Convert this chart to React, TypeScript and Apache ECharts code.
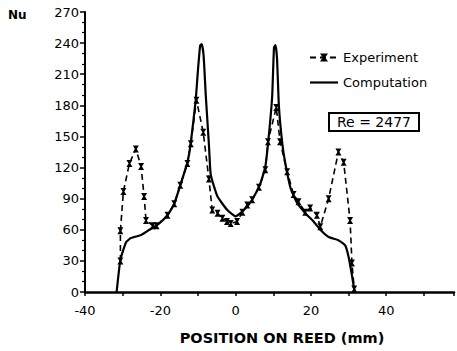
import React, { useEffect, useRef } from "react";
import * as echarts from "echarts";

const experiment: [number, number][] = [
  [-30.6, 30], [-30.6, 59], [-29.8, 97], [-28.2, 124], [-26.5, 138], [-25.1, 121],
  [-24.3, 92], [-23.8, 69], [-22.0, 64], [-21.0, 64], [-18.1, 74], [-16.3, 85],
  [-14.7, 103], [-12.8, 124], [-11.9, 143], [-10.4, 185], [-8.6, 154], [-7.1, 109],
  [-6.2, 79], [-4.8, 76], [-3.5, 71], [-2.3, 68], [-1.3, 66], [0.4, 68], [1.8, 77],
  [3.1, 84], [4.4, 89], [6.2, 101], [7.9, 118], [8.6, 145], [10.8, 178], [11.8, 145],
  [13.7, 116], [15.4, 94], [16.7, 87], [18.5, 77], [19.8, 81], [21.6, 74], [22.5, 63],
  [24.7, 90], [27.3, 135], [28.7, 125], [30.4, 69], [30.9, 28], [31.5, 3],
];

const computation: [number, number][] = [
  [-31.6, 0], [-30.6, 31], [-29.1, 48], [-27.8, 52], [-25.1, 55], [-22.9, 60],
  [-20.7, 65], [-18.1, 74], [-16.3, 85], [-14.6, 104], [-12.8, 125], [-11.9, 144],
  [-10.6, 185], [-10.0, 214], [-9.4, 238], [-9.0, 239], [-8.5, 228], [-7.9, 188], [-7.1, 143],
  [-6.6, 113], [-4.8, 92], [-2.2, 79], [0, 73], [2.2, 79], [4.4, 89], [6.6, 105],
  [7.9, 121], [8.8, 150], [9.7, 188], [10.2, 236], [10.6, 238], [11.0, 225], [11.5, 179],
  [12.4, 143], [13.2, 124], [14.6, 100], [16.3, 86], [18.5, 76], [20.7, 68],
  [22.5, 60], [24.7, 53], [27.3, 50], [29.1, 45], [30.0, 34], [30.9, 16], [31.6, 0],
];

const xTickLabels = ["-40", "-20", "0", "20", "40"];
const yTickLabels = ["0", "30", "60", "90", "120", "150", "180", "210", "240", "270"];

const FONT = "DejaVu Sans";
const MARK = "path://M0,0 L10,0 L6.5,5 L10,10 L0,10 L3.5,5 Z";
const SOLID_ICON = "path://M0,4 L28,4 L28,6.2 L0,6.2 Z";

export default function App() {
  const ref = useRef<HTMLDivElement>(null);
  useEffect(() => {
    document.body.style.margin = "0";
    const chart = echarts.init(ref.current!, null, { renderer: "svg" });
    chart.setOption({
      animation: false,
      backgroundColor: "#fff",
      grid: { left: 85, right: 3, top: 12, bottom: 59 },
      legend: {
        orient: "vertical",
        left: 304,
        top: 46,
        itemWidth: 28,
        itemHeight: 10,
        itemGap: 12,
        textStyle: { fontFamily: FONT, fontSize: 13, color: "#000" },
        data: [
          { name: "Experiment" },
          { name: "Computation", icon: SOLID_ICON },
        ],
      },
      xAxis: {
        type: "value",
        min: -40,
        max: 58,
        interval: 10,
        axisLine: { onZero: false, lineStyle: { color: "#000", width: 2.5 } },
        axisTick: { length: 4, lineStyle: { color: "#000", width: 1.5 } },
        splitLine: { show: false },
        axisLabel: {
          fontFamily: FONT,
          fontSize: 13,
          color: "#000",
          margin: 12,
          formatter: (v: number) => {
            const s = String(v);
            return xTickLabels.includes(s) ? s : "";
          },
        },
      },
      yAxis: {
        type: "value",
        min: 0,
        max: 270,
        interval: 30,
        axisLine: { show: true, onZero: false, lineStyle: { color: "#000", width: 2 } },
        axisTick: { show: true, length: 5, lineStyle: { color: "#000", width: 1.5 } },
        minorTick: { show: true, splitNumber: 3, length: 3, lineStyle: { color: "#000", width: 1.2 } },
        splitLine: { show: false },
        axisLabel: {
          fontFamily: FONT,
          fontSize: 13,
          color: "#000",
          margin: 6,
          formatter: (v: number) => (yTickLabels.includes(String(v)) ? String(v) : ""),
        },
      },
      series: [
        {
          name: "Experiment",
          type: "line",
          data: experiment,
          symbol: MARK,
          symbolSize: [6, 7],
          itemStyle: { color: "#000" },
          lineStyle: { color: "#000", width: 1.6, type: [6, 4] },
          z: 3,
        },
        {
          name: "Computation",
          type: "line",
          data: computation,
          symbol: "none",
          smooth: 0.15,
          itemStyle: { color: "#000" },
          lineStyle: { color: "#000", width: 2.2 },
          z: 2,
        },
      ],
      graphic: [
        {
          type: "text",
          left: 8,
          top: 9,
          style: { text: "Nu", font: `bold 12px '${FONT}'`, fill: "#000" },
        },
        {
          type: "rect",
          shape: { x: 329, y: 113, width: 90, height: 18 },
          style: { fill: "#fff", stroke: "#000", lineWidth: 2 },
        },
        {
          type: "text",
          x: 374,
          y: 122,
          style: {
            text: "Re = 2477",
            font: `14px '${FONT}'`,
            fill: "#000",
            align: "center",
            verticalAlign: "middle",
          },
        },
        {
          type: "text",
          x: 282,
          y: 338,
          style: {
            text: "POSITION ON REED (mm)",
            font: `bold 14.5px '${FONT}'`,
            fill: "#000",
            align: "center",
            verticalAlign: "middle",
          },
        },
      ],
    });
    return () => chart.dispose();
  }, []);
  return <div ref={ref} style={{ width: 457, height: 351 }} />;
}
